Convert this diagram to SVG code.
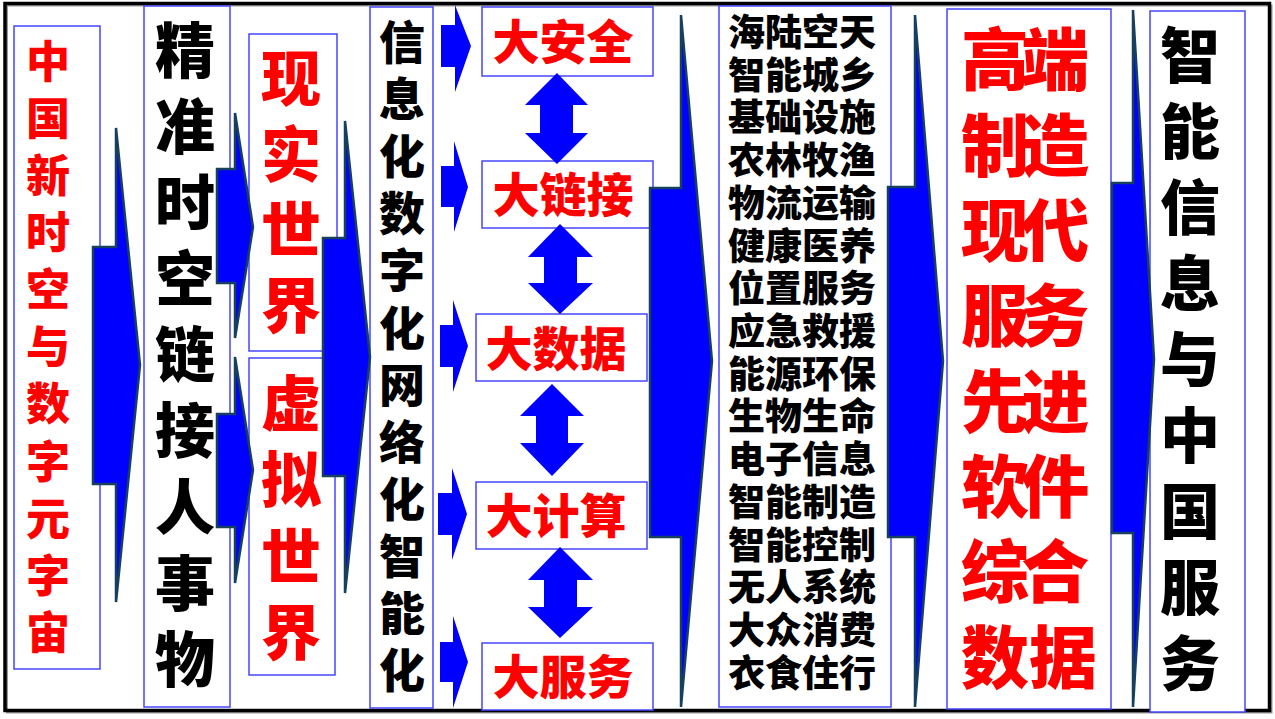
<svg xmlns="http://www.w3.org/2000/svg" width="1275" height="719" viewBox="0 0 1275 719">
<style>
.box{fill:#fff;stroke:#4646ff;stroke-width:1.5}
.t{font-family:"Noto Sans CJK SC","Noto Sans CJK JP",sans-serif;font-weight:900;text-anchor:middle}
.r{fill:#ff0000}
.k{fill:#000}
.big{fill:#0000ff;stroke:#16405e;stroke-width:2.5;stroke-linejoin:miter}
.sm{fill:#0000ff}
</style>
<rect x="0" y="0" width="1275" height="719" fill="#fff"/>
<rect x="7" y="5.5" width="1264.5" height="707" fill="none" stroke="#9a9a9a" stroke-width="2"/>
<rect x="5" y="3.5" width="1264.5" height="707" fill="none" stroke="#000" stroke-width="3.5"/>

<g id="n1">
<rect class="box" x="14" y="26" width="86" height="643"/>
<text class="t r" font-size="44">
<tspan x="48" y="78">中</tspan><tspan x="48" y="135">国</tspan><tspan x="48" y="192">新</tspan><tspan x="48" y="249">时</tspan><tspan x="48" y="306">空</tspan><tspan x="48" y="363">与</tspan><tspan x="48" y="420">数</tspan><tspan x="48" y="478">字</tspan><tspan x="48" y="535">元</tspan><tspan x="48" y="592">字</tspan><tspan x="48" y="649">宙</tspan>
</text>
</g>

<g id="n2">
<rect class="box" x="144" y="6" width="86" height="701"/>
<text class="t k" font-size="60">
<tspan x="185" y="73">精</tspan><tspan x="185" y="149">准</tspan><tspan x="185" y="225">时</tspan><tspan x="185" y="301">空</tspan><tspan x="185" y="377">链</tspan><tspan x="185" y="453">接</tspan><tspan x="185" y="530">人</tspan><tspan x="185" y="606">事</tspan><tspan x="185" y="682">物</tspan>
</text>
</g>

<g id="n3">
<rect class="box" x="249" y="34" width="88" height="317"/>
<text class="t r" font-size="60">
<tspan x="291" y="101">现</tspan><tspan x="291" y="177">实</tspan><tspan x="291" y="252">世</tspan><tspan x="291" y="328">界</tspan>
</text>
</g>

<g id="n4">
<rect class="box" x="249" y="358" width="86" height="317"/>
<text class="t r" font-size="60">
<tspan x="291" y="426">虚</tspan><tspan x="291" y="502">拟</tspan><tspan x="291" y="579">世</tspan><tspan x="291" y="655">界</tspan>
</text>
</g>

<g id="n5">
<rect class="box" x="370" y="7" width="63" height="701"/>
<text class="t k" font-size="46">
<tspan x="402" y="59">信</tspan><tspan x="402" y="116">息</tspan><tspan x="402" y="173">化</tspan><tspan x="402" y="230">数</tspan><tspan x="402" y="287">字</tspan><tspan x="402" y="345">化</tspan><tspan x="402" y="402">网</tspan><tspan x="402" y="459">络</tspan><tspan x="402" y="516">化</tspan><tspan x="402" y="573">智</tspan><tspan x="402" y="630">能</tspan><tspan x="402" y="687">化</tspan>
</text>
</g>

<g id="n6">
<rect class="box" x="482" y="7" width="171" height="69"/>
<text class="t r" font-size="47" x="563" y="59">大安全</text>
</g>
<g id="n7">
<rect class="box" x="482" y="161" width="171" height="67"/>
<text class="t r" font-size="47" x="563" y="212">大链接</text>
</g>
<g id="n8">
<rect class="box" x="476" y="314" width="171" height="67"/>
<text class="t r" font-size="47" x="556" y="366">大数据</text>
</g>
<g id="n9">
<rect class="box" x="476" y="482" width="171" height="67"/>
<text class="t r" font-size="47" x="556" y="533">大计算</text>
</g>
<g id="n10">
<rect class="box" x="482" y="643" width="171" height="67"/>
<text class="t r" font-size="47" x="563" y="694">大服务</text>
</g>

<g id="n11">
<rect class="box" x="719" y="6" width="172" height="701"/>
<text class="t k" font-size="37">
<tspan x="802" y="46">海陆空天</tspan><tspan x="802" y="89">智能城乡</tspan><tspan x="802" y="131">基础设施</tspan><tspan x="802" y="174">农林牧渔</tspan><tspan x="802" y="217">物流运输</tspan><tspan x="802" y="260">健康医养</tspan><tspan x="802" y="302">位置服务</tspan><tspan x="802" y="345">应急救援</tspan><tspan x="802" y="388">能源环保</tspan><tspan x="802" y="430">生物生命</tspan><tspan x="802" y="473">电子信息</tspan><tspan x="802" y="516">智能制造</tspan><tspan x="802" y="559">智能控制</tspan><tspan x="802" y="601">无人系统</tspan><tspan x="802" y="644">大众消费</tspan><tspan x="802" y="687">衣食住行</tspan>
</text>
</g>

<g id="n12">
<rect class="box" x="947" y="9" width="164" height="700"/>
<text class="t r" font-size="68">
<tspan x="995" y="85">高</tspan><tspan x="1063" y="85">端</tspan>
<tspan x="995" y="171">制</tspan><tspan x="1063" y="171">造</tspan>
<tspan x="995" y="256">现</tspan><tspan x="1063" y="256">代</tspan>
<tspan x="995" y="341">服</tspan><tspan x="1063" y="341">务</tspan>
<tspan x="995" y="427">先</tspan><tspan x="1063" y="427">进</tspan>
<tspan x="995" y="512">软</tspan><tspan x="1063" y="512">件</tspan>
<tspan x="995" y="597">综</tspan><tspan x="1063" y="597">合</tspan>
<tspan x="995" y="683">数</tspan><tspan x="1063" y="683">据</tspan>
</text>
</g>

<g id="n13">
<rect class="box" x="1150" y="11" width="95" height="701"/>
<text class="t k" font-size="60">
<tspan x="1190" y="78">智</tspan><tspan x="1190" y="154">能</tspan><tspan x="1190" y="230">信</tspan><tspan x="1190" y="306">息</tspan><tspan x="1190" y="382">与</tspan><tspan x="1190" y="458">中</tspan><tspan x="1190" y="534">国</tspan><tspan x="1190" y="610">服</tspan><tspan x="1190" y="686">务</tspan>
</text>
</g>

<g id="connectors">
<polygon class="big" points="93,247 116,247 116,128 140,365 116,602 116,484 93,484"/>
<polygon class="big" points="217,169 235,169 235,113 253,227 235,338 235,283 217,283"/>
<polygon class="big" points="217,414 235,414 235,357 253,470 235,583 235,527 217,527"/>
<polygon class="big" points="323,238 345,238 345,121 370,357 345,593 345,476 323,476"/>
<polygon class="big" points="650,188 681,188 681,15 712,361 681,707 681,537 650,537"/>
<polygon class="big" points="888,187 915,187 915,15 943,361 915,707 915,537 888,537"/>
<polygon class="big" points="1112,183 1133,183 1133,10 1154,359 1133,707 1133,533 1112,533"/>

<polygon class="sm" points="441,25 455,25 455,5 471,46 455,92 455,67 441,67"/>
<polygon class="sm" points="441,166 454,166 454,141 468,187 454,232 454,207 441,207"/>
<polygon class="sm" points="440,325 453,325 453,300 468,346 453,392 453,367 440,367"/>
<polygon class="sm" points="438,493 452,493 452,468 467,514 452,560 452,535 438,535"/>
<polygon class="sm" points="440,642 453,642 453,616 468,662 453,708 453,682 440,682"/>

<polygon class="sm" points="557,73 588,105 573,105 573,133 588,133 557,164 525,133 540,133 540,105 525,105"/>
<polygon class="sm" points="560,224 593,257 577,257 577,283 593,283 560,314 528,283 544,283 544,257 528,257"/>
<polygon class="sm" points="552,384 584,416 568,416 568,443 584,443 552,476 520,443 536,443 536,416 520,416"/>
<polygon class="sm" points="560,547 593,580 577,580 577,607 593,607 560,638 528,607 544,607 544,580 528,580"/>
</g>
</svg>
